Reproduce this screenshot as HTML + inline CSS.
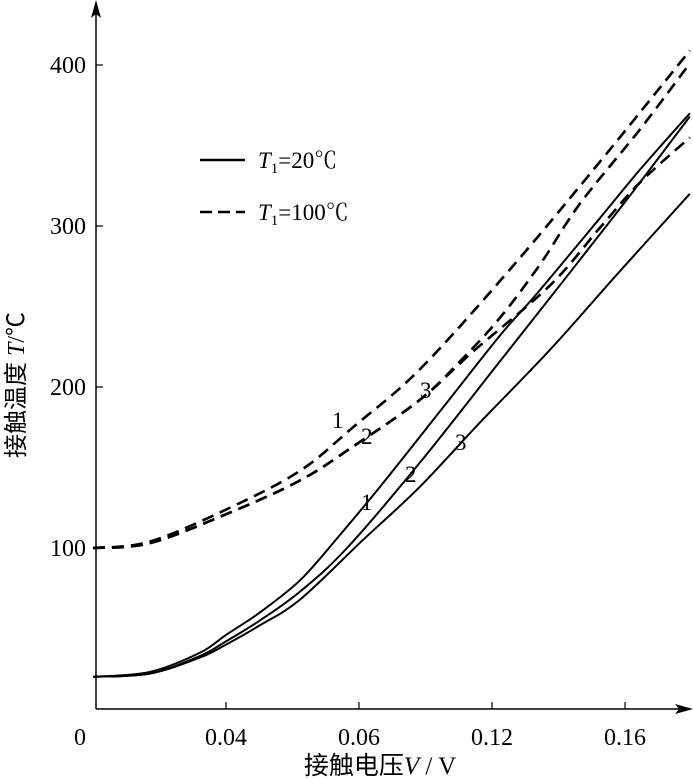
<!DOCTYPE html>
<html><head><meta charset="utf-8">
<style>
html,body{margin:0;padding:0;background:#fff;}
svg{display:block;font-family:"Liberation Serif","Noto Serif CJK SC",serif;}
</style></head>
<body>
<svg id="chart" width="693" height="779" viewBox="0 0 693 779" xmlns="http://www.w3.org/2000/svg">
<g id="axes"></g>
<g id="series"></g>
</svg>
<script>
// ---- data ----
const xTicks = [0.04, 0.08, 0.12, 0.16];
const xTickLabels = ["0.04", "0.06", "0.12", "0.16"];
const yTicks = [100, 200, 300, 400];
const yTickLabels = ["100", "200", "300", "400"];

const dash1X = [0, 0.0171, 0.0412, 0.0623, 0.0782, 0.0983, 0.1254, 0.1525, 0.1795];
const dash1Y = [100, 104, 125, 148, 175, 211, 273, 340, 409];
const dash2X = [0, 0.0171, 0.0412, 0.0623, 0.0782, 0.0983, 0.1104, 0.1224, 0.1344, 0.1465, 0.1645, 0.1795];
const dash2Y = [100, 103, 122, 142, 163, 192, 216, 243, 276, 314, 360, 401];
const dash3X = [0, 0.0171, 0.0412, 0.0623, 0.0782, 0.0983, 0.1143, 0.1374, 0.1525, 0.1645, 0.1795];
const dash3Y = [100, 103, 122, 142, 163, 192, 222, 263, 299, 327, 355];
const solid1X = [0, 0.0171, 0.0322, 0.04, 0.0502, 0.0623, 0.0734, 0.0863, 0.1044, 0.1224, 0.1335, 0.1525, 0.1645, 0.1795];
const solid1Y = [20, 23, 35, 46, 60, 80, 106, 138, 185, 232, 258, 305, 335, 370];
const solid2X = [0, 0.0171, 0.0322, 0.04, 0.0502, 0.0623, 0.0764, 0.0983, 0.1224, 0.1335, 0.1525, 0.1645, 0.1795];
const solid2Y = [20, 22, 33, 42, 55, 73, 100, 153, 216, 245, 295, 327, 368];
const solid3X = [0, 0.0171, 0.0322, 0.04, 0.0502, 0.0623, 0.0812, 0.0983, 0.1164, 0.1374, 0.1585, 0.1795];
const solid3Y = [20, 22, 32, 40, 52, 68, 105, 138, 178, 223, 272, 320];

// ---- scales ----
const X0 = 93, XS = 3325;
const Y0 = 709, YS = 1.61;
function sx(v){ return X0 + v*XS; }
function sy(t){ return Y0 - t*YS; }

const NS = "http://www.w3.org/2000/svg";
function mk(tag, attrs, parent){
  const e = document.createElementNS(NS, tag);
  for (const k in attrs) e.setAttribute(k, attrs[k]);
  parent.appendChild(e);
  return e;
}
const axes = document.getElementById('axes');
const series = document.getElementById('series');

let xa = mk('line', {x1:96, y1:709, x2:680, y2:709, stroke:'#000','stroke-width':1.5}, axes);


let xarr = mk('polygon', {points:'693,709 675,704 679,709 675,714', fill:'#000'}, axes);


let ya = mk('line', {x1:96, y1:709, x2:96, y2:10, stroke:'#000','stroke-width':1.5}, axes);


let yarr = mk('polygon', {points:'96,0 91,18 96,14 101,18', fill:'#000'}, axes);



xTicks.forEach((v,i)=>{
  const x = sx(v);
  const t = mk('line', {x1:x, y1:709, x2:x, y2:702, stroke:'#000','stroke-width':1.2}, axes);
  
  
  const l = mk('text', {x:x, y:745, 'font-size':24, 'text-anchor':'middle'}, axes);
  l.textContent = xTickLabels[i];
  
  
});
yTicks.forEach((v,i)=>{
  const y = sy(v);
  const t = mk('line', {x1:96, y1:y, x2:103, y2:y, stroke:'#000','stroke-width':1.2}, axes);
  
  
  const l = mk('text', {x:86, y:y+8, 'font-size':24, 'text-anchor':'end'}, axes);
  l.textContent = yTickLabels[i];
  
  
});
let zero = mk('text', {x:80, y:745, 'font-size':24, 'text-anchor':'middle'}, axes);
zero.textContent = '0';



function path(xs, ys){
  let d = '';
  for (let i=0;i<xs.length;i++){
    const px = sx(xs[i]), py = sy(ys[i]);
    if (i===0) d += 'M'+px+','+py;
    else {
      const p0x = sx(xs[Math.max(i-2,0)]), p0y = sy(ys[Math.max(i-2,0)]);
      const p1x = sx(xs[i-1]), p1y = sy(ys[i-1]);
      const p3x = sx(xs[Math.min(i+1,xs.length-1)]), p3y = sy(ys[Math.min(i+1,xs.length-1)]);
      const c1x = p1x + (px-p0x)/6, c1y = p1y + (py-p0y)/6;
      const c2x = px - (p3x-p1x)/6, c2y = py - (p3y-p1y)/6;
      d += ' C'+c1x+','+c1y+' '+c2x+','+c2y+' '+px+','+py;
    }
  }
  return d;
}
const dashStyle = {fill:'none', stroke:'#000','stroke-width':2.6,'stroke-dasharray':'12,7'};
const solidStyle = {fill:'none', stroke:'#000','stroke-width':2};
let s;
s = mk('path', Object.assign({d:path(dash1X,dash1Y)}, dashStyle), series);


s = mk('path', Object.assign({d:path(dash2X,dash2Y)}, dashStyle), series);


s = mk('path', Object.assign({d:path(dash3X,dash3Y)}, dashStyle), series);


s = mk('path', Object.assign({d:path(solid1X,solid1Y)}, solidStyle), series);


s = mk('path', Object.assign({d:path(solid2X,solid2Y)}, solidStyle), series);


s = mk('path', Object.assign({d:path(solid3X,solid3Y)}, solidStyle), series);


</script>
<svg style="position:absolute;left:0;top:0" width="693" height="779" xmlns="http://www.w3.org/2000/svg">
  <g font-family="Liberation Serif, Noto Serif CJK SC, serif" font-size="23">
    <text x="24" y="385" transform="rotate(-90 24 385)" text-anchor="middle" font-size="24" font-family="Liberation Serif, Noto Sans CJK SC, serif">接触温度 <tspan font-style="italic">T</tspan>/℃</text>
    <text x="380" y="774" text-anchor="middle" font-size="25" font-family="Liberation Serif, Noto Sans CJK SC, serif">接触电压<tspan font-style="italic">V</tspan> / V</text>
    <line x1="200" y1="160" x2="245" y2="160" stroke="#000" stroke-width="2.5"/>
    <text x="258" y="168"><tspan font-style="italic">T</tspan><tspan font-size="15" dy="5">1</tspan><tspan dy="-5">=20℃</tspan></text>
    <line x1="200" y1="212" x2="245" y2="212" stroke="#000" stroke-width="2.6" stroke-dasharray="12,6"/>
    <text x="258" y="220"><tspan font-style="italic">T</tspan><tspan font-size="15" dy="5">1</tspan><tspan dy="-5">=100℃</tspan></text>
    <text x="332" y="428">1</text>
    <text x="361" y="444">2</text>
    <text x="420" y="398">3</text>
    <text x="361" y="510">1</text>
    <text x="405" y="482">2</text>
    <text x="455" y="450">3</text>
  </g>
</svg>
</body></html>
